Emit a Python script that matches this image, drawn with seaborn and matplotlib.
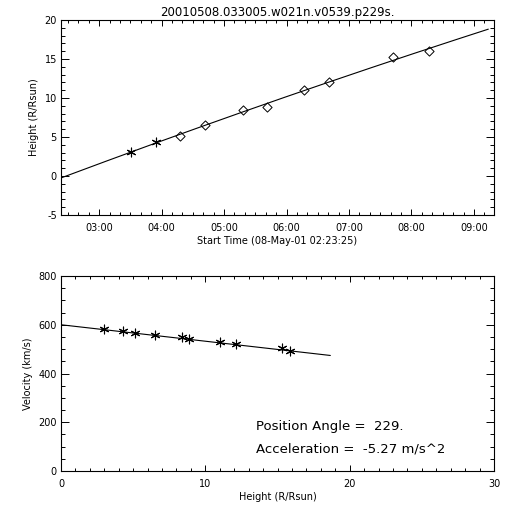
import numpy as np
import pandas as pd
import matplotlib
matplotlib.use("Agg")
import matplotlib.pyplot as plt
from matplotlib.ticker import MultipleLocator, FixedLocator
import seaborn as sns

title = "20010508.033005.w021n.v0539.p229s."
# decimal hours of day
times = [3.506, 3.911, 4.289, 4.689, 5.296, 5.695, 6.281, 6.685, 7.697, 8.283]
heights = [3.1, 4.4, 5.1, 6.5, 8.4, 8.9, 11.0, 12.1, 15.3, 16.0]
kinds = ["star", "star", "dia", "dia", "dia", "dia", "dia", "dia", "dia", "dia"]
vel_heights = [3.0, 4.3, 5.1, 6.5, 8.4, 8.9, 11.0, 12.1, 15.3, 15.9]
velocities = [583, 573, 566, 557, 551, 542, 531, 523, 505, 494]
vfit_h = [0.0, 18.66]
vfit_v = [600, 474]
time_ticks = [3, 4, 5, 6, 7, 8, 9]
time_labels = ["03:00", "04:00", "05:00", "06:00", "07:00", "08:00", "09:00"]
start_time = 2 + 23/60 + 25/3600
fit_end = 9.23

sns.set_style("ticks")
plt.rcParams["font.family"] = ["DejaVu Sans"]
plt.rcParams["font.size"] = 7
plt.rcParams["axes.unicode_minus"] = False
plt.rcParams["text.color"] = "black"
plt.rcParams["axes.labelcolor"] = "black"

fig = plt.figure(figsize=(5.12, 5.12), dpi=100)
ax1 = fig.add_axes([61/512, 1-215/512, 433/512, 195/512])
ax2 = fig.add_axes([61/512, 1-471/512, 433/512, 195/512])

df = pd.DataFrame({"t": times, "h": heights, "k": kinds})
coef = np.polyfit(times, heights, 2)
tt = np.linspace(start_time, fit_end, 200)
sns.lineplot(x=tt, y=np.polyval(coef, tt), ax=ax1, color="black", lw=0.8)
sns.scatterplot(data=df[df.k == "star"], x="t", y="h", ax=ax1, marker=(6, 2, 0),
                s=40, color="black", linewidth=0.8)
sns.scatterplot(data=df[df.k == "dia"], x="t", y="h", ax=ax1, marker="D",
                s=22, facecolor="white", edgecolor="black", linewidth=0.7)
ax1.set_xlim(start_time, 3 + (494 - 98.3) / 62.6)
ax1.set_ylim(-5, 20)
ax1.xaxis.set_major_locator(FixedLocator(time_ticks))
ax1.set_xticklabels(time_labels)
ax1.xaxis.set_minor_locator(MultipleLocator(1/6))
ax1.yaxis.set_major_locator(MultipleLocator(5))
ax1.yaxis.set_minor_locator(MultipleLocator(1))
ax1.set_xlabel("Start Time (08-May-01 02:23:25)", labelpad=2)
ax1.set_ylabel("Height (R/Rsun)", labelpad=4)
ax1.set_title(title, fontsize=8.5, pad=3, color="black")

dv = pd.DataFrame({"h": vel_heights, "v": velocities})
sns.lineplot(x=vfit_h, y=vfit_v, ax=ax2, color="black", lw=0.8)
sns.scatterplot(data=dv, x="h", y="v", ax=ax2, marker=(6, 2, 0), s=40,
                color="black", linewidth=0.8)
ax2.set_xlim(0, 30)
ax2.set_ylim(0, 800)
ax2.xaxis.set_major_locator(MultipleLocator(10))
ax2.xaxis.set_minor_locator(MultipleLocator(1))
ax2.yaxis.set_major_locator(MultipleLocator(200))
ax2.yaxis.set_minor_locator(MultipleLocator(50))
ax2.set_xlabel("Height (R/Rsun)", labelpad=2)
ax2.set_ylabel("Velocity (km/s)", labelpad=4)
ax2.text(13.5, 184, "Position Angle =  229.", fontsize=9.5, va="center", color="black")
ax2.text(13.5, 91, "Acceleration =  -5.27 m/s^2", fontsize=9.5, va="center", color="black")

for ax in (ax1, ax2):
    for s in ax.spines.values():
        s.set_linewidth(0.8)
        s.set_color("black")
    ax.tick_params(which="both", direction="in", top=True, right=True,
                   width=0.7, labelsize=7, colors="black")
    ax.tick_params(axis="x", which="both", pad=6)
    ax.tick_params(axis="y", which="both", pad=3)
    ax.tick_params(axis="x", which="major", length=4)
    ax.tick_params(axis="x", which="minor", length=2)
    ax.tick_params(axis="y", which="major", length=6)
    ax.tick_params(axis="y", which="minor", length=3)

fig.savefig("out.png", dpi=100, facecolor="white")
